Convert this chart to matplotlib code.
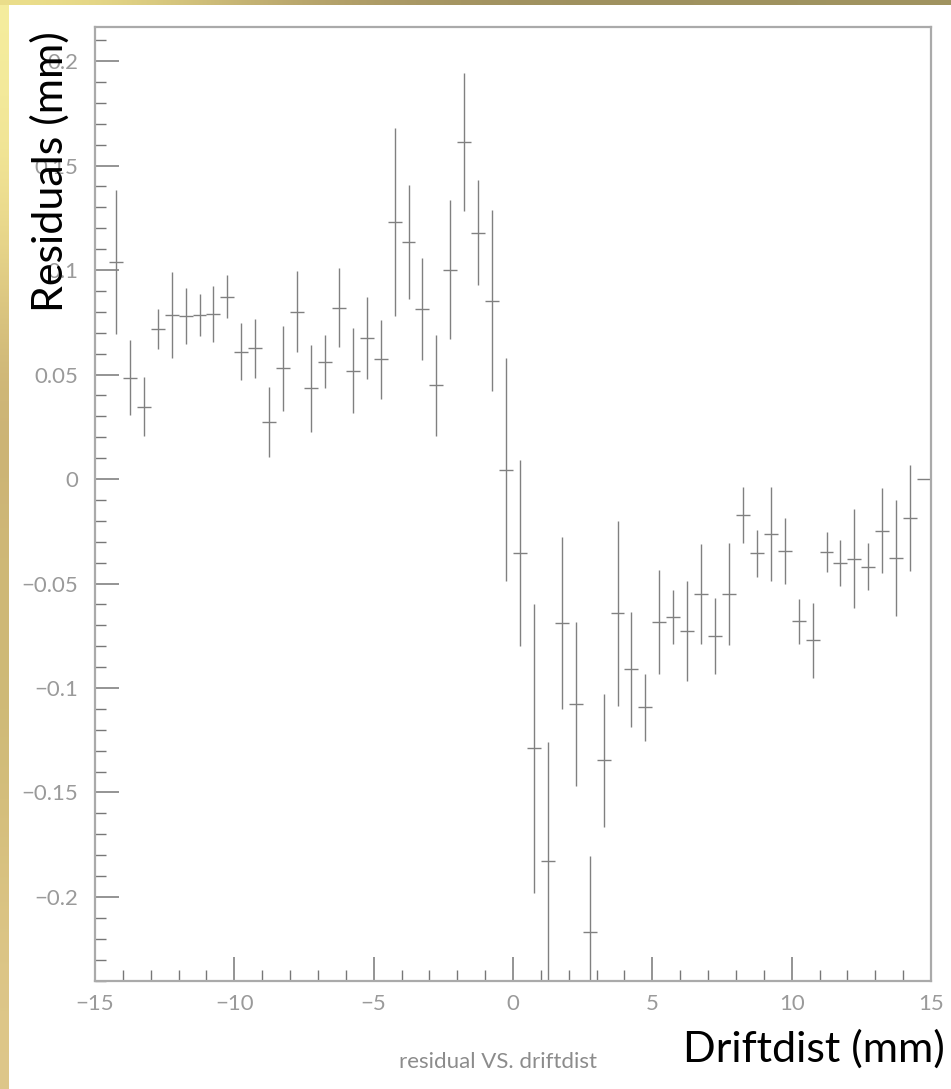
import matplotlib
matplotlib.use("Agg")
import matplotlib.pyplot as plt
import numpy as np

# Profile data: bin centres (mm), mean residual (mm), error on mean
drift = [-14.25, -13.75, -13.25, -12.75, -12.25, -11.75, -11.25, -10.75, -10.25, -9.75,
         -9.25, -8.75, -8.25, -7.75, -7.25, -6.75, -6.25, -5.75, -5.25, -4.75,
         -4.25, -3.75, -3.25, -2.75, -2.25, -1.75, -1.25, -0.75, -0.25, 0.25,
         0.75, 1.25, 1.75, 2.25, 2.75, 3.25, 3.75, 4.25, 4.75, 5.25,
         5.75, 6.25, 6.75, 7.25, 7.75, 8.25, 8.75, 9.25, 9.75, 10.25,
         10.75, 11.25, 11.75, 12.25, 12.75, 13.25, 13.75, 14.25, 14.75]
resid = [0.104, 0.0485, 0.0346, 0.0716, 0.0785, 0.078, 0.0785, 0.0789, 0.0872, 0.0609,
         0.0625, 0.0273, 0.053, 0.080, 0.0435, 0.0561, 0.082, 0.0518, 0.0673, 0.0573,
         0.123, 0.1135, 0.0815, 0.0448, 0.1002, 0.1612, 0.1179, 0.0853, 0.0045, -0.0356,
         -0.1288, -0.1829, -0.0689, -0.1078, -0.2166, -0.1346, -0.0643, -0.0911, -0.1092, -0.0684,
         -0.066, -0.0729, -0.055, -0.0751, -0.055, -0.0172, -0.0356, -0.0263, -0.0344, -0.0681,
         -0.0772, -0.0349, -0.0403, -0.0381, -0.042, -0.0247, -0.0378, -0.0188, 0.0]
err = [0.0344, 0.0178, 0.0142, 0.0096, 0.0207, 0.0132, 0.010, 0.0134, 0.0102, 0.0136,
       0.0141, 0.0167, 0.0203, 0.0194, 0.0208, 0.0127, 0.0189, 0.0203, 0.0196, 0.0188,
       0.0448, 0.0274, 0.0244, 0.0243, 0.0331, 0.0331, 0.025, 0.0433, 0.0534, 0.0445,
       0.0692, 0.0571, 0.041, 0.0393, 0.0362, 0.0319, 0.0444, 0.0276, 0.0161, 0.0251,
       0.0129, 0.0239, 0.0239, 0.0182, 0.0246, 0.0133, 0.0112, 0.0224, 0.0159, 0.0108,
       0.018, 0.0097, 0.011, 0.0238, 0.0112, 0.0204, 0.0278, 0.0253, 0.0]
bin_half = 0.25

W, H = 951, 1089
fig = plt.figure(figsize=(W / 100, H / 100), dpi=100)
fig.patch.set_facecolor("white")

# sandy slide background strips (left and top)
strip = fig.add_axes([0, 0, 9 / W, 1], zorder=-5)
grad = np.array([[0.96, 0.93, 0.62], [0.93, 0.86, 0.55], [0.78, 0.68, 0.45],
                 [0.82, 0.73, 0.47], [0.80, 0.72, 0.46], [0.85, 0.76, 0.50],
                 [0.87, 0.78, 0.54]])[:, None, :]
strip.imshow(grad, aspect="auto", interpolation="bicubic", extent=[0, 1, 0, 1])
strip.axis("off")
top = fig.add_axes([0, 1 - 5 / H, 1, 5 / H], zorder=-5)
tgrad = np.array([[0.93, 0.88, 0.55], [0.72, 0.64, 0.42], [0.63, 0.57, 0.38],
                  [0.62, 0.57, 0.37], [0.63, 0.58, 0.38]])[None, :, :]
top.imshow(tgrad, aspect="auto", interpolation="bicubic", extent=[0, 1, 0, 1])
top.axis("off")

ax = fig.add_axes([95 / W, (H - 981) / H, (931 - 95) / W, (981 - 27) / H])
ax.errorbar(drift, resid, yerr=err, xerr=bin_half, fmt="none",
            ecolor="#808080", elinewidth=1.0, capsize=0)

ax.set_xlim(-15, 15)
ax.set_ylim(-0.2402, 0.2163)
ax.set_xticks(np.arange(-15, 16, 5))
ax.set_xticks(np.arange(-15, 16, 1), minor=True)
ax.set_yticks(np.arange(-0.2, 0.21, 0.05))
ax.set_yticks(np.arange(-0.24, 0.216, 0.01), minor=True)
ax.set_xticklabels(["\u221215", "\u221210", "\u22125", "0", "5", "10", "15"])
ax.set_yticklabels(["\u22120.2", "\u22120.15", "\u22120.1", "\u22120.05", "0",
                    "0.05", "0.1", "0.15", "0.2"])
ax.tick_params(axis="both", which="both", direction="in", colors="#777777",
               labelcolor="#9a9a9a", labelsize=16, top=False, right=False)
ax.tick_params(axis="both", which="major", length=17, width=1.1)
ax.tick_params(axis="both", which="minor", length=8, width=1.0)
ax.tick_params(axis="x", which="major", pad=9)
ax.tick_params(axis="y", which="major", pad=12)
for lab in ax.get_xticklabels() + ax.get_yticklabels():
    lab.set_fontfamily(["Lato", "DejaVu Sans"])
for s in ax.spines.values():
    s.set_color("#aaaaaa")
    s.set_linewidth(1.6)

big = ["Lato", "DejaVu Sans"]
fig.text(50 / W, 1 - 172 / H, "Residuals (mm)", rotation=90, ha="center",
         va="center", fontsize=31, family=big, color="black")
fig.text(945 / W, 1 - 1062 / H, "Driftdist (mm)", ha="right", va="baseline",
         fontsize=31, family=big, color="black")
fig.text(498 / W, 1 - 1062 / H, "residual VS. driftdist", ha="center", va="center",
         fontsize=16, family=big, color="#8c8c8c")

plt.savefig("out.png", dpi=100)
